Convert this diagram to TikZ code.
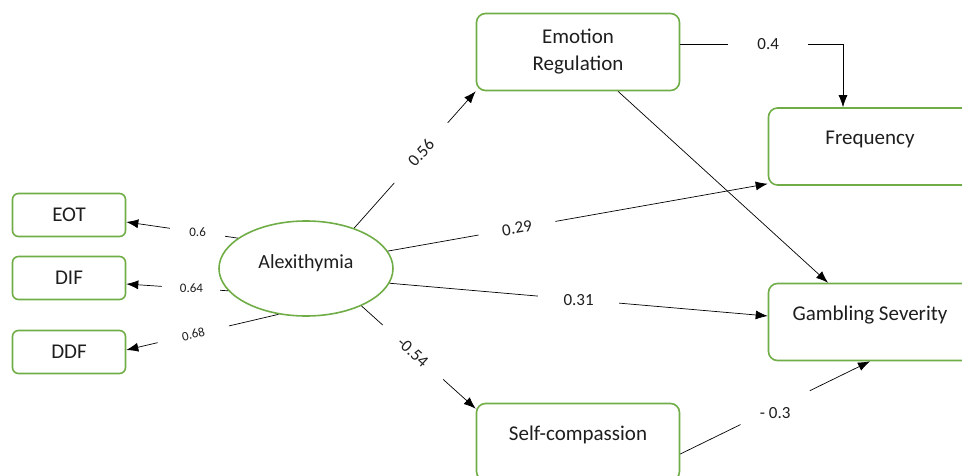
\documentclass[tikz,border=0pt]{standalone}
\usepackage{fontspec}
\setmainfont{Carlito}
\usepackage{tikz}
\usetikzlibrary{positioning, shapes.geometric, arrows.meta}
\definecolor{leafgreen}{RGB}{112,173,71}
\definecolor{inkgray}{RGB}{30,30,30}

\begin{document}
\begin{tikzpicture}[x=1pt, y=-1pt, -{Latex[length=12pt,width=9pt]}, line width=0.7pt, node distance=63pt, on grid,
		smallbox/.style={rectangle, rounded corners=6pt, draw=leafgreen, line width=1.6pt, minimum width=113pt, minimum height=43pt, inner sep=0pt, text=inkgray, font=\fontsize{21}{27}\selectfont},
		bigbox/.style={smallbox, rounded corners=9pt, minimum width=203pt, minimum height=77pt},
		topbox/.style={bigbox, text height=13pt, text depth=17pt},
		latent/.style={ellipse, draw=leafgreen, line width=1.6pt, minimum width=174pt, minimum height=95pt, inner sep=0pt, text=inkgray, font=\fontsize{20}{23}\selectfont, text height=12pt, text depth=13pt},
		coef/.style={fill=white, inner sep=0pt, minimum height=12pt, text=inkgray, font=\fontsize{17}{20}\selectfont},
		smallcoef/.style={coef, font=\fontsize{13}{15}\selectfont},
		coeftext/.style={inner sep=0pt, text=inkgray, font=\fontsize{17}{20}\selectfont}]
	\clip (0,0) rectangle (962,476);
	\node [smallbox] (EOT) at (69,215) {EOT};
	\node [smallbox] (DIF) [below=of EOT] {DIF};
	\node [smallbox] (DDF) [below=74pt of DIF] {DDF};
	\node [latent] (ALEX) at (306,268.5) {Alexithymia};
	\node [bigbox, align=center] (EMO) at (578,52) {Emotion\\Regulation};
	\node [topbox] (FREQ) at (870,146.5) {Frequency};
	\node [topbox] (GAMB) [below=175.5pt of FREQ] {Gambling Severity};
	\node [topbox] (SELF) at (578,442) {Self-compassion};
	\path (ALEX.156) edge node [smallcoef, minimum width=55pt, pos=0.36] {0.6} ([yshift=-7pt]EOT.east);
	\path (ALEX.196) edge node [smallcoef, minimum width=58pt, pos=0.36] {0.64} ([yshift=-6pt]DIF.east);
	\path (ALEX.239) edge node [smallcoef, minimum width=73pt, pos=0.56, sloped] {0.68} ([yshift=2pt]DDF.east);
	\path (ALEX.40) edge node [coef, minimum width=80pt, pos=0.55, sloped] {0.56} (EMO.south west);
	\path (ALEX.12) edge node [coef, minimum width=78pt, pos=0.34, sloped] {0.29} ([yshift=2pt]FREQ.south west);
	\path (ALEX.350) edge node [coef, minimum width=81pt, pos=0.5] {0.31} ([yshift=6pt]GAMB.west);
	\path (ALEX.326) edge node [coef, minimum width=81pt, pos=0.45, sloped] {-0.54} ([yshift=-6pt]SELF.north west);
	\draw ([yshift=8pt]EMO.east) -| node [coef, minimum width=80pt, pos=0.27] {0.4} ([xshift=-27pt]FREQ.north);
	\path ([xshift=40pt]EMO.south) edge ([xshift=-42pt]GAMB.north);
	\path ([yshift=-12pt]SELF.east) edge node [coef, minimum width=77pt, pos=0.5, sloped] {} node [coeftext, pos=0.5, yshift=-5pt] {- 0.3} (GAMB.south);
\end{tikzpicture}
\end{document}
